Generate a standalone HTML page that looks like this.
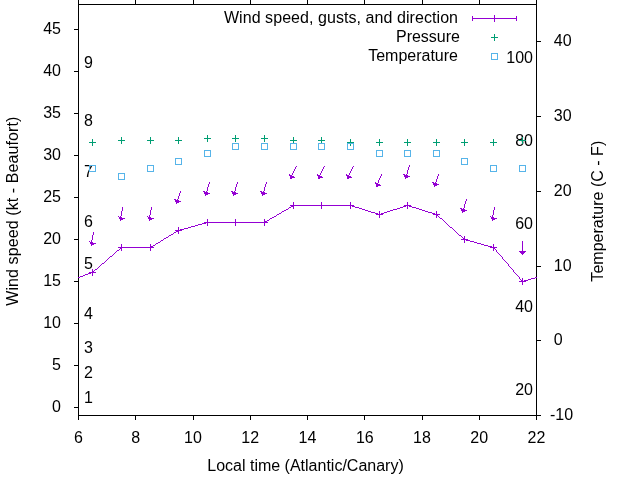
<!DOCTYPE html><html><head><meta charset="utf-8"><style>html,body{margin:0;padding:0;background:#fff}svg{display:block;will-change:transform}text{font-family:"Liberation Sans",sans-serif;font-size:16px;fill:#000}</style></head><body>
<svg width="640" height="480" viewBox="0 0 640 480">
<rect width="640" height="480" fill="#fff"/>
<defs><clipPath id="c"><rect x="78" y="4" width="459" height="412"/></clipPath></defs>
<g stroke="#000" stroke-width="1" fill="none" shape-rendering="crispEdges">
<rect x="78.5" y="4.5" width="458" height="411"/>
<path d="M78.5,415.5V420M78.5,4.5V-1"/>
<path d="M135.5,415.5V420M135.5,4.5V-1"/>
<path d="M193.5,415.5V420M193.5,4.5V-1"/>
<path d="M250.5,415.5V420M250.5,4.5V-1"/>
<path d="M307.5,415.5V420M307.5,4.5V-1"/>
<path d="M364.5,415.5V420M364.5,4.5V-1"/>
<path d="M422.5,415.5V420M422.5,4.5V-1"/>
<path d="M479.5,415.5V420M479.5,4.5V-1"/>
<path d="M536.5,415.5V420M536.5,4.5V-1"/>
<path d="M78.5,407.5H73.5"/>
<path d="M78.5,365.5H73.5"/>
<path d="M78.5,323.5H73.5"/>
<path d="M78.5,281.5H73.5"/>
<path d="M78.5,239.5H73.5"/>
<path d="M78.5,197.5H73.5"/>
<path d="M78.5,155.5H73.5"/>
<path d="M78.5,113.5H73.5"/>
<path d="M78.5,71.5H73.5"/>
<path d="M78.5,29.5H73.5"/>
<path d="M536.5,415.5H541"/>
<path d="M536.5,340.5H541"/>
<path d="M536.5,266.5H541"/>
<path d="M536.5,191.5H541"/>
<path d="M536.5,116.5H541"/>
<path d="M536.5,41.5H541"/>
</g>
<text x="78.5" y="443" text-anchor="middle">6</text>
<text x="135.8" y="443" text-anchor="middle">8</text>
<text x="193.0" y="443" text-anchor="middle">10</text>
<text x="250.2" y="443" text-anchor="middle">12</text>
<text x="307.5" y="443" text-anchor="middle">14</text>
<text x="364.8" y="443" text-anchor="middle">16</text>
<text x="422.0" y="443" text-anchor="middle">18</text>
<text x="479.2" y="443" text-anchor="middle">20</text>
<text x="536.5" y="443" text-anchor="middle">22</text>
<text x="61" y="412" text-anchor="end">0</text>
<text x="61" y="370" text-anchor="end">5</text>
<text x="61" y="328" text-anchor="end">10</text>
<text x="61" y="286" text-anchor="end">15</text>
<text x="61" y="244" text-anchor="end">20</text>
<text x="61" y="202" text-anchor="end">25</text>
<text x="61" y="160" text-anchor="end">30</text>
<text x="61" y="118" text-anchor="end">35</text>
<text x="61" y="76" text-anchor="end">40</text>
<text x="61" y="34" text-anchor="end">45</text>
<text x="550" y="420">-10</text>
<text x="553.8" y="345">0</text>
<text x="553.8" y="271">10</text>
<text x="553.8" y="196">20</text>
<text x="553.8" y="121">30</text>
<text x="553.8" y="46">40</text>
<text x="84" y="403">1</text>
<text x="84" y="378">2</text>
<text x="84" y="353">3</text>
<text x="84" y="319">4</text>
<text x="84" y="269">5</text>
<text x="84" y="227">6</text>
<text x="84" y="177">7</text>
<text x="84" y="126">8</text>
<text x="84" y="68">9</text>
<text x="533" y="63" text-anchor="end">100</text>
<text x="533" y="146" text-anchor="end">80</text>
<text x="533" y="229" text-anchor="end">60</text>
<text x="533" y="312" text-anchor="end">40</text>
<text x="533" y="395" text-anchor="end">20</text>
<text transform="translate(18,211.2) rotate(-90)" text-anchor="middle" textLength="189.2" lengthAdjust="spacing">Wind speed (kt - Beaufort)</text>
<text transform="translate(603,211.2) rotate(-90)" text-anchor="middle" textLength="140.9" lengthAdjust="spacing">Temperature (C - F)</text>
<text x="305.5" y="471" text-anchor="middle">Local time (Atlantic/Canary)</text>
<text x="458" y="23" text-anchor="end" textLength="234.1" lengthAdjust="spacing">Wind speed, gusts, and direction</text>
<text x="460" y="42" text-anchor="end">Pressure</text>
<text x="458" y="61" text-anchor="end">Temperature</text>
<g fill="none" stroke-width="1" shape-rendering="crispEdges">
<path d="M472,18.5H517M472.5,16V21M516.5,16V21" stroke="#9400d3"/>
<path d="M491,18.5H498M494.5,15V22" stroke="#9400d3"/>
<path d="M491,37.5H498M494.5,34V41" stroke="#009e73"/>
<rect x="491.5" y="53.5" width="6" height="6" stroke="#56b4e9"/>
<path d="M293,205h59v1h-59zM406,205h3v1h-3zM291,206h2v1h-2zM352,206h3v1h-3zM403,206h3v1h-3zM409,206h3v1h-3zM289,207h2v1h-2zM355,207h4v1h-4zM400,207h3v1h-3zM412,207h4v1h-4zM288,208h1v1h-1zM359,208h3v1h-3zM397,208h3v1h-3zM416,208h3v1h-3zM286,209h2v1h-2zM362,209h3v1h-3zM393,209h4v1h-4zM419,209h3v1h-3zM284,210h2v1h-2zM365,210h3v1h-3zM390,210h3v1h-3zM422,210h3v1h-3zM282,211h2v1h-2zM368,211h3v1h-3zM387,211h3v1h-3zM425,211h3v1h-3zM281,212h1v1h-1zM371,212h4v1h-4zM384,212h3v1h-3zM428,212h4v1h-4zM279,213h2v1h-2zM375,213h3v1h-3zM381,213h3v1h-3zM432,213h3v1h-3zM277,214h2v1h-2zM378,214h3v1h-3zM435,214h2v1h-2zM276,215h1v1h-1zM437,215h1v1h-1zM274,216h2v1h-2zM438,216h1v1h-1zM272,217h2v1h-2zM439,217h1v1h-1zM270,218h2v1h-2zM440,218h2v1h-2zM269,219h1v1h-1zM442,219h1v1h-1zM267,220h2v1h-2zM443,220h1v1h-1zM265,221h2v1h-2zM444,221h1v1h-1zM206,222h59v1h-59zM445,222h1v1h-1zM202,223h4v1h-4zM446,223h1v1h-1zM198,224h4v1h-4zM447,224h1v1h-1zM195,225h3v1h-3zM448,225h1v1h-1zM191,226h4v1h-4zM449,226h1v1h-1zM188,227h3v1h-3zM450,227h2v1h-2zM184,228h4v1h-4zM452,228h1v1h-1zM180,229h4v1h-4zM453,229h1v1h-1zM178,230h2v1h-2zM454,230h1v1h-1zM176,231h2v1h-2zM455,231h1v1h-1zM174,232h2v1h-2zM456,232h1v1h-1zM173,233h1v1h-1zM457,233h1v1h-1zM171,234h2v1h-2zM458,234h1v1h-1zM169,235h2v1h-2zM459,235h2v1h-2zM168,236h1v1h-1zM461,236h1v1h-1zM166,237h2v1h-2zM462,237h1v1h-1zM164,238h2v1h-2zM463,238h1v1h-1zM163,239h1v1h-1zM464,239h2v1h-2zM161,240h2v1h-2zM466,240h4v1h-4zM160,241h1v1h-1zM470,241h4v1h-4zM158,242h2v1h-2zM474,242h3v1h-3zM156,243h2v1h-2zM477,243h4v1h-4zM155,244h1v1h-1zM481,244h3v1h-3zM153,245h2v1h-2zM484,245h4v1h-4zM151,246h2v1h-2zM488,246h4v1h-4zM121,247h30v1h-30zM492,247h2v1h-2zM120,248h1v1h-1zM494,248h1v1h-1zM119,249h1v1h-1zM495,249h1v1h-1zM117,250h2v1h-2zM496,250h1v1h-1zM116,251h1v1h-1zM496,251h1v1h-1zM115,252h1v1h-1zM497,252h1v1h-1zM114,253h1v1h-1zM498,253h1v1h-1zM113,254h1v1h-1zM499,254h1v1h-1zM112,255h1v1h-1zM500,255h1v1h-1zM110,256h2v1h-2zM501,256h1v1h-1zM109,257h1v1h-1zM502,257h1v1h-1zM108,258h1v1h-1zM502,258h1v1h-1zM107,259h1v1h-1zM503,259h1v1h-1zM106,260h1v1h-1zM504,260h1v1h-1zM105,261h1v1h-1zM505,261h1v1h-1zM104,262h1v1h-1zM506,262h1v1h-1zM102,263h2v1h-2zM507,263h1v1h-1zM101,264h1v1h-1zM508,264h1v1h-1zM100,265h1v1h-1zM508,265h1v1h-1zM99,266h1v1h-1zM509,266h1v1h-1zM98,267h1v1h-1zM510,267h1v1h-1zM97,268h1v1h-1zM511,268h1v1h-1zM95,269h2v1h-2zM512,269h1v1h-1zM94,270h1v1h-1zM513,270h1v1h-1zM93,271h1v1h-1zM513,271h1v1h-1zM91,272h2v1h-2zM514,272h1v1h-1zM88,273h3v1h-3zM515,273h1v1h-1zM85,274h3v1h-3zM516,274h1v1h-1zM83,275h2v1h-2zM517,275h1v1h-1zM80,276h3v1h-3zM518,276h1v1h-1zM78,277h2v1h-2zM519,277h1v1h-1zM535,277h2v1h-2zM519,278h1v1h-1zM531,278h4v1h-4zM520,279h1v1h-1zM528,279h3v1h-3zM521,280h1v1h-1zM524,280h4v1h-4zM522,281h2v1h-2z" fill="#9400d3" stroke="none"/>
<path d="M89,272.5H96M92.5,269V276" stroke="#9400d3"/>
<path d="M118,247.5H125M121.5,244V251" stroke="#9400d3"/>
<path d="M147,247.5H154M150.5,244V251" stroke="#9400d3"/>
<path d="M175,230.5H182M178.5,227V234" stroke="#9400d3"/>
<path d="M204,222.5H211M207.5,219V226" stroke="#9400d3"/>
<path d="M232,222.5H239M235.5,219V226" stroke="#9400d3"/>
<path d="M261,222.5H268M264.5,219V226" stroke="#9400d3"/>
<path d="M290,205.5H297M293.5,202V209" stroke="#9400d3"/>
<path d="M318,205.5H325M321.5,202V209" stroke="#9400d3"/>
<path d="M347,205.5H354M350.5,202V209" stroke="#9400d3"/>
<path d="M376,214.5H383M379.5,211V218" stroke="#9400d3"/>
<path d="M404,205.5H411M407.5,202V209" stroke="#9400d3"/>
<path d="M433,214.5H440M436.5,211V218" stroke="#9400d3"/>
<path d="M461,239.5H468M464.5,236V243" stroke="#9400d3"/>
<path d="M490,247.5H497M493.5,244V251" stroke="#9400d3"/>
<path d="M519,281.5H526M522.5,278V285" stroke="#9400d3"/>
<path d="M93,232h1v1h-1zM93,233h1v1h-1zM93,234h1v1h-1zM92,235h1v1h-1zM92,236h1v1h-1zM92,237h1v1h-1zM92,238h1v1h-1zM92,239h1v1h-1zM91,240h1v1h-1zM91,241h1v1h-1zM91,242h1v1h-1zM91,243h1v1h-1z" fill="#9400d3" stroke="none"/>
<path d="M89,241h1v1h-1zM90,242h3v1h-3zM90,243h6v1h-6zM91,244h3v1h-3zM91,245h1v1h-1z" fill="#9400d3" stroke="none"/>
<path d="M122,207h1v1h-1zM122,208h1v1h-1zM122,209h1v1h-1zM122,210h1v1h-1zM121,211h1v1h-1zM121,212h1v1h-1zM121,213h1v1h-1zM121,214h1v1h-1zM121,215h1v1h-1zM120,216h1v1h-1zM120,217h1v1h-1zM120,218h1v1h-1z" fill="#9400d3" stroke="none"/>
<path d="M118,216h1v1h-1zM119,217h3v1h-3zM119,218h6v1h-6zM120,219h3v1h-3zM120,220h1v1h-1z" fill="#9400d3" stroke="none"/>
<path d="M151,207h1v1h-1zM151,208h1v1h-1zM151,209h1v1h-1zM150,210h1v1h-1zM150,211h1v1h-1zM150,212h1v1h-1zM150,213h1v1h-1zM150,214h1v1h-1zM149,215h1v1h-1zM149,216h1v1h-1zM149,217h1v1h-1zM149,218h1v1h-1z" fill="#9400d3" stroke="none"/>
<path d="M147,216h1v1h-1zM148,217h3v1h-3zM148,218h6v1h-6zM149,219h3v1h-3zM149,220h1v1h-1z" fill="#9400d3" stroke="none"/>
<path d="M180,191h1v1h-1zM180,192h1v1h-1zM179,193h1v1h-1zM179,194h1v1h-1zM179,195h1v1h-1zM178,196h1v1h-1zM178,197h1v1h-1zM178,198h1v1h-1zM177,199h1v1h-1zM177,200h1v1h-1zM177,201h1v1h-1zM176,202h1v1h-1zM176,203h1v1h-1z" fill="#9400d3" stroke="none"/>
<path d="M174,199h2v1h-2zM175,200h4v1h-4zM175,201h6v1h-6zM176,202h3v1h-3zM176,203h1v1h-1z" fill="#9400d3" stroke="none"/>
<path d="M209,182h1v1h-1zM209,183h1v1h-1zM208,184h1v1h-1zM208,185h1v1h-1zM208,186h1v1h-1zM207,187h1v1h-1zM207,188h1v1h-1zM207,189h1v1h-1zM207,190h1v1h-1zM206,191h1v1h-1zM206,192h1v1h-1zM206,193h1v1h-1zM205,194h1v1h-1zM205,195h1v1h-1z" fill="#9400d3" stroke="none"/>
<path d="M203,191h2v1h-2zM204,192h4v1h-4zM204,193h6v1h-6zM205,194h3v1h-3zM205,195h1v1h-1z" fill="#9400d3" stroke="none"/>
<path d="M237,182h1v1h-1zM237,183h1v1h-1zM236,184h1v1h-1zM236,185h1v1h-1zM236,186h1v1h-1zM235,187h1v1h-1zM235,188h1v1h-1zM235,189h1v1h-1zM235,190h1v1h-1zM234,191h1v1h-1zM234,192h1v1h-1zM234,193h1v1h-1zM233,194h1v1h-1zM233,195h1v1h-1z" fill="#9400d3" stroke="none"/>
<path d="M231,191h2v1h-2zM232,192h4v1h-4zM232,193h6v1h-6zM233,194h3v1h-3zM233,195h1v1h-1z" fill="#9400d3" stroke="none"/>
<path d="M266,182h1v1h-1zM266,183h1v1h-1zM265,184h1v1h-1zM265,185h1v1h-1zM265,186h1v1h-1zM264,187h1v1h-1zM264,188h1v1h-1zM264,189h1v1h-1zM264,190h1v1h-1zM263,191h1v1h-1zM263,192h1v1h-1zM263,193h1v1h-1zM262,194h1v1h-1zM262,195h1v1h-1z" fill="#9400d3" stroke="none"/>
<path d="M260,191h2v1h-2zM261,192h4v1h-4zM261,193h6v1h-6zM262,194h3v1h-3zM262,195h1v1h-1z" fill="#9400d3" stroke="none"/>
<path d="M296,166h1v1h-1zM295,167h1v1h-1zM295,168h1v1h-1zM294,169h1v1h-1zM294,170h1v1h-1zM293,171h1v1h-1zM293,172h1v1h-1zM292,173h1v1h-1zM292,174h1v1h-1zM291,175h1v1h-1zM291,176h1v1h-1zM290,177h1v1h-1zM290,178h1v1h-1z" fill="#9400d3" stroke="none"/>
<path d="M289,174h1v1h-1zM289,175h3v1h-3zM290,176h4v1h-4zM290,177h5v1h-5zM290,178h2v1h-2z" fill="#9400d3" stroke="none"/>
<path d="M324,166h1v1h-1zM323,167h1v1h-1zM323,168h1v1h-1zM322,169h1v1h-1zM322,170h1v1h-1zM321,171h1v1h-1zM321,172h1v1h-1zM320,173h1v1h-1zM320,174h1v1h-1zM319,175h1v1h-1zM319,176h1v1h-1zM318,177h1v1h-1zM318,178h1v1h-1z" fill="#9400d3" stroke="none"/>
<path d="M317,174h1v1h-1zM317,175h3v1h-3zM318,176h4v1h-4zM318,177h5v1h-5zM318,178h2v1h-2z" fill="#9400d3" stroke="none"/>
<path d="M353,166h1v1h-1zM352,167h1v1h-1zM352,168h1v1h-1zM351,169h1v1h-1zM351,170h1v1h-1zM350,171h1v1h-1zM350,172h1v1h-1zM349,173h1v1h-1zM349,174h1v1h-1zM348,175h1v1h-1zM348,176h1v1h-1zM347,177h1v1h-1zM347,178h1v1h-1z" fill="#9400d3" stroke="none"/>
<path d="M346,174h1v1h-1zM346,175h3v1h-3zM347,176h4v1h-4zM347,177h5v1h-5zM347,178h2v1h-2z" fill="#9400d3" stroke="none"/>
<path d="M381,174h1v1h-1zM381,175h1v1h-1zM380,176h1v1h-1zM380,177h1v1h-1zM379,178h1v1h-1zM379,179h1v1h-1zM378,180h1v1h-1zM378,181h1v1h-1zM378,182h1v1h-1zM377,183h1v1h-1zM377,184h1v1h-1zM376,185h1v1h-1zM376,186h1v1h-1z" fill="#9400d3" stroke="none"/>
<path d="M375,182h1v1h-1zM375,183h3v1h-3zM376,184h4v1h-4zM376,185h5v1h-5zM376,186h2v1h-2z" fill="#9400d3" stroke="none"/>
<path d="M409,165h1v1h-1zM409,166h1v1h-1zM408,167h1v1h-1zM408,168h1v1h-1zM408,169h1v1h-1zM407,170h1v1h-1zM407,171h1v1h-1zM407,172h1v1h-1zM407,173h1v1h-1zM406,174h1v1h-1zM406,175h1v1h-1zM406,176h1v1h-1zM405,177h1v1h-1zM405,178h1v1h-1z" fill="#9400d3" stroke="none"/>
<path d="M403,174h2v1h-2zM404,175h4v1h-4zM404,176h6v1h-6zM405,177h3v1h-3zM405,178h1v1h-1z" fill="#9400d3" stroke="none"/>
<path d="M438,174h1v1h-1zM438,175h1v1h-1zM437,176h1v1h-1zM437,177h1v1h-1zM437,178h1v1h-1zM436,179h1v1h-1zM436,180h1v1h-1zM436,181h1v1h-1zM435,182h1v1h-1zM435,183h1v1h-1zM435,184h1v1h-1zM434,185h1v1h-1zM434,186h1v1h-1z" fill="#9400d3" stroke="none"/>
<path d="M432,182h2v1h-2zM433,183h4v1h-4zM433,184h6v1h-6zM434,185h3v1h-3zM434,186h1v1h-1z" fill="#9400d3" stroke="none"/>
<path d="M466,199h1v1h-1zM466,200h1v1h-1zM465,201h1v1h-1zM465,202h1v1h-1zM465,203h1v1h-1zM464,204h1v1h-1zM464,205h1v1h-1zM464,206h1v1h-1zM464,207h1v1h-1zM463,208h1v1h-1zM463,209h1v1h-1zM463,210h1v1h-1zM462,211h1v1h-1zM462,212h1v1h-1z" fill="#9400d3" stroke="none"/>
<path d="M460,208h2v1h-2zM461,209h4v1h-4zM461,210h6v1h-6zM462,211h3v1h-3zM462,212h1v1h-1z" fill="#9400d3" stroke="none"/>
<path d="M494,207h1v1h-1zM494,208h1v1h-1zM494,209h1v1h-1zM493,210h1v1h-1zM493,211h1v1h-1zM493,212h1v1h-1zM493,213h1v1h-1zM493,214h1v1h-1zM492,215h1v1h-1zM492,216h1v1h-1zM492,217h1v1h-1zM492,218h1v1h-1z" fill="#9400d3" stroke="none"/>
<path d="M490,216h1v1h-1zM491,217h3v1h-3zM491,218h6v1h-6zM492,219h3v1h-3zM492,220h1v1h-1z" fill="#9400d3" stroke="none"/>
<path d="M522,241h1v1h-1zM522,242h1v1h-1zM522,243h1v1h-1zM522,244h1v1h-1zM522,245h1v1h-1zM522,246h1v1h-1zM522,247h1v1h-1zM522,248h1v1h-1zM522,249h1v1h-1zM522,250h1v1h-1zM522,251h1v1h-1zM522,252h1v1h-1zM522,253h1v1h-1zM522,254h1v1h-1z" fill="#9400d3" stroke="none"/>
<path d="M519,251h7v1h-7zM520,252h5v1h-5zM521,253h3v1h-3zM522,254h1v1h-1z" fill="#9400d3" stroke="none"/>
<path d="M89,142.5H96M92.5,139V146" stroke="#009e73"/>
<path d="M118,140.5H125M121.5,137V144" stroke="#009e73"/>
<path d="M147,140.5H154M150.5,137V144" stroke="#009e73"/>
<path d="M175,140.5H182M178.5,137V144" stroke="#009e73"/>
<path d="M204,138.5H211M207.5,135V142" stroke="#009e73"/>
<path d="M232,138.5H239M235.5,135V142" stroke="#009e73"/>
<path d="M261,138.5H268M264.5,135V142" stroke="#009e73"/>
<path d="M290,140.5H297M293.5,137V144" stroke="#009e73"/>
<path d="M318,140.5H325M321.5,137V144" stroke="#009e73"/>
<path d="M347,142.5H354M350.5,139V146" stroke="#009e73"/>
<path d="M376,142.5H383M379.5,139V146" stroke="#009e73"/>
<path d="M404,142.5H411M407.5,139V146" stroke="#009e73"/>
<path d="M433,142.5H440M436.5,139V146" stroke="#009e73"/>
<path d="M461,142.5H468M464.5,139V146" stroke="#009e73"/>
<path d="M490,142.5H497M493.5,139V146" stroke="#009e73"/>
<path d="M519,140.5H526M522.5,137V144" stroke="#009e73"/>
<rect x="89.5" y="165.5" width="6" height="6" stroke="#56b4e9"/>
<rect x="118.5" y="173.5" width="6" height="6" stroke="#56b4e9"/>
<rect x="147.5" y="165.5" width="6" height="6" stroke="#56b4e9"/>
<rect x="175.5" y="158.5" width="6" height="6" stroke="#56b4e9"/>
<rect x="204.5" y="150.5" width="6" height="6" stroke="#56b4e9"/>
<rect x="232.5" y="143.5" width="6" height="6" stroke="#56b4e9"/>
<rect x="261.5" y="143.5" width="6" height="6" stroke="#56b4e9"/>
<rect x="290.5" y="143.5" width="6" height="6" stroke="#56b4e9"/>
<rect x="318.5" y="143.5" width="6" height="6" stroke="#56b4e9"/>
<rect x="347.5" y="143.5" width="6" height="6" stroke="#56b4e9"/>
<rect x="376.5" y="150.5" width="6" height="6" stroke="#56b4e9"/>
<rect x="404.5" y="150.5" width="6" height="6" stroke="#56b4e9"/>
<rect x="433.5" y="150.5" width="6" height="6" stroke="#56b4e9"/>
<rect x="461.5" y="158.5" width="6" height="6" stroke="#56b4e9"/>
<rect x="490.5" y="165.5" width="6" height="6" stroke="#56b4e9"/>
<rect x="519.5" y="165.5" width="6" height="6" stroke="#56b4e9"/>
</g>
</svg></body></html>
